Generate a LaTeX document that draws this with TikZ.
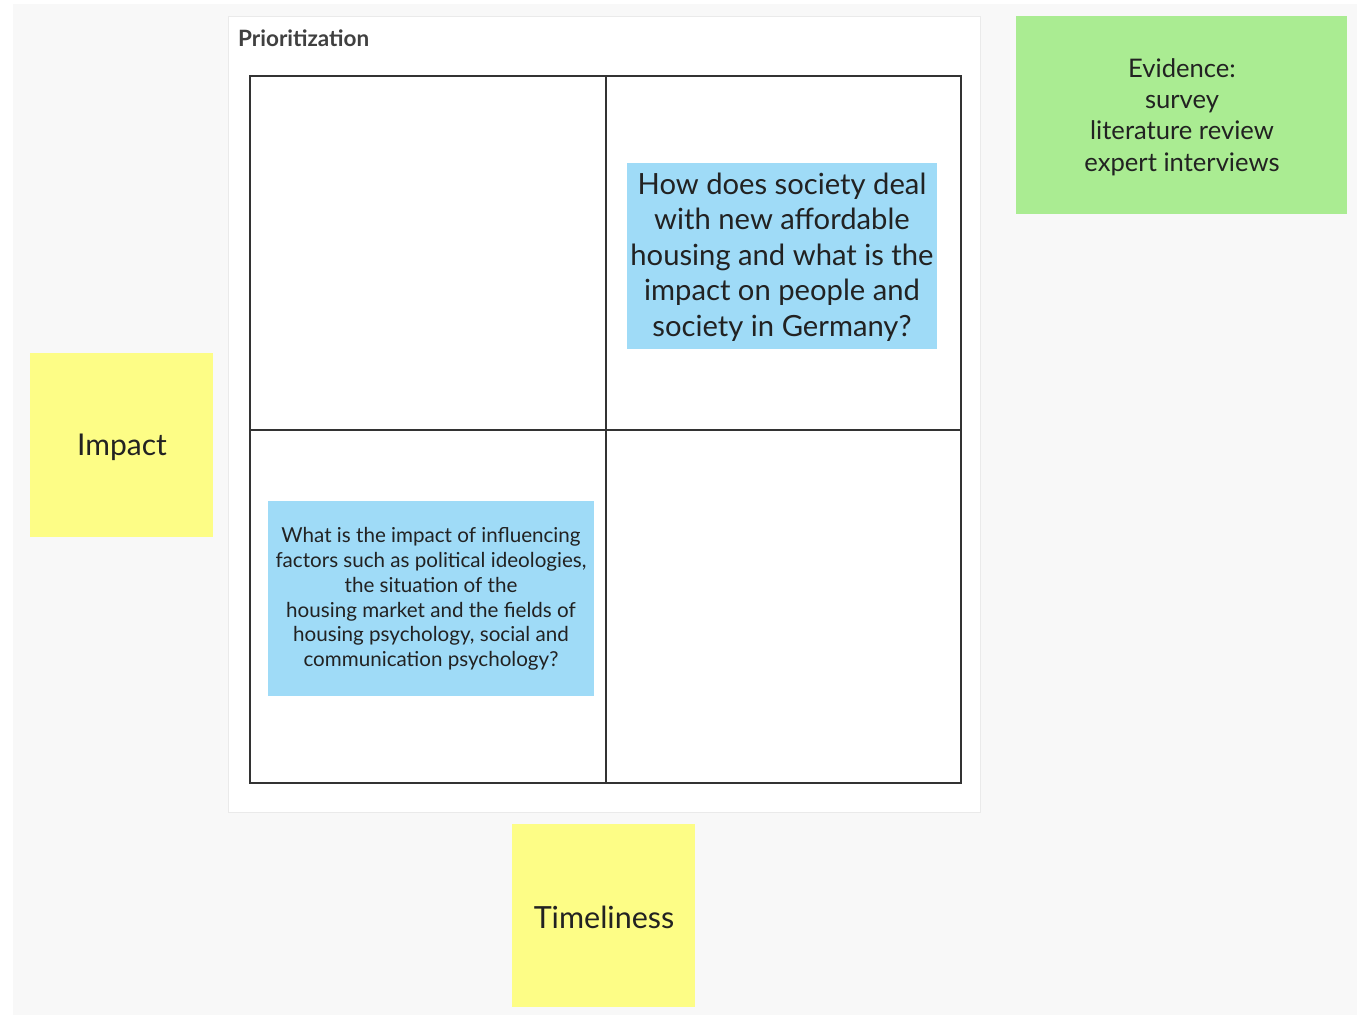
\documentclass[tikz,border=0pt]{standalone}
\usepackage{fontspec}
\setmainfont{Lato}
\definecolor{bg}{HTML}{F8F8F8}
\definecolor{sticky}{HTML}{FDFD86}
\definecolor{evid}{HTML}{AAEC92}
\definecolor{qblue}{HTML}{9FDBF7}
\definecolor{framebd}{HTML}{EAEAEA}
\definecolor{txt}{HTML}{222222}
\begin{document}
\begin{tikzpicture}[x=1pt,y=-1pt,
  note/.style={fill=sticky,draw=none},
  qbox/.style={fill=qblue,draw=none},
  gridline/.style={draw=black!80,line width=1.8pt},
  lbl/.style={text=txt,align=center,inner sep=0pt}]
\useasboundingbox (0,0) rectangle (1357,1015);
\fill[white] (0,0) rectangle (1357,1015);
\fill[bg] (13,4) rectangle (1357,1015);
% frame
\filldraw[fill=white,draw=framebd,line width=0.8pt] (228,16) rectangle (980,812);
\node[lbl,anchor=west,font=\fontsize{22.5}{26}\selectfont\bfseries,text=black!75] (title) at (238,38) {Prioritization};
% grid
\draw[gridline] (250,76) rectangle (961,783);
\coordinate (vt) at (606,76);
\coordinate (vb) at (606,783);
\coordinate (hl) at (250,430);
\coordinate (hr) at (961,430);
\draw[gridline] (vt) -- (vb);
\draw[gridline] (hl) -- (hr);
% question boxes
\fill[qbox] (627,163) rectangle (937,349);
\node[lbl,font=\fontsize{29.2}{35.4}\selectfont] (q1) at (782,257) {How does society deal\\with new affordable\\housing and what is the\\impact on people and\\society in Germany?};
\fill[qbox] (268,501) rectangle (594,696);
\node[lbl,font=\fontsize{20.6}{24.8}\selectfont] (q2) at (431,599) {What is the impact of influencing\\factors such as political ideologies,\\the situation of the\\housing market and the fields of\\housing psychology, social and\\communication psychology?};
% evidence
\fill[evid] (1016,16) rectangle (1347,214);
\node[lbl,font=\fontsize{25.6}{31.3}\selectfont] (ev) at (1182,117) {Evidence:\\survey\\literature review\\expert interviews};
% stickies
\fill[note] (30,353) rectangle (213,537);
\node[lbl,font=\fontsize{30}{34}\selectfont] (impact) at (122,447) {Impact};
\fill[note] (512,824) rectangle (695,1007);
\node[lbl,font=\fontsize{30.5}{34}\selectfont] (time) at (604,917) {Timeliness};
\end{tikzpicture}
\end{document}
